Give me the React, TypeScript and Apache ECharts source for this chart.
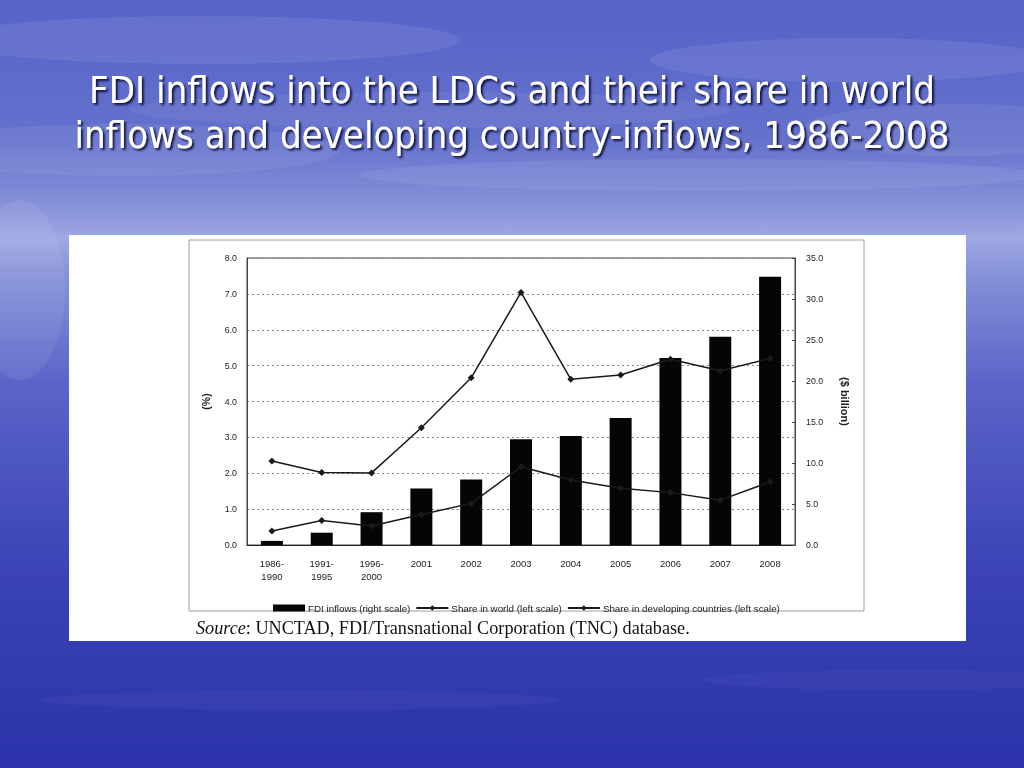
import React, { useEffect, useRef } from "react";
import * as echarts from "echarts";

const categories = [
  "1986-\n1990",
  "1991-\n1995",
  "1996-\n2000",
  "2001",
  "2002",
  "2003",
  "2004",
  "2005",
  "2006",
  "2007",
  "2008",
];
// FDI inflows, $ billion (right scale)
const fdiInflows = [0.5, 1.5, 4.0, 6.9, 8.0, 12.9, 13.3, 15.5, 22.8, 25.4, 32.7];
// Share in world inflows, % (left scale)
const shareWorld = [0.39, 0.68, 0.53, 0.85, 1.16, 2.18, 1.81, 1.58, 1.46, 1.25, 1.76];
// Share in developing-country inflows, % (left scale)
const shareDeveloping = [2.34, 2.02, 2.01, 3.27, 4.66, 7.04, 4.62, 4.74, 5.18, 4.86, 5.2];

const titleLines = [
  "FDI inflows into the LDCs and their share in world",
  "inflows and developing country-inflows, 1986-2008",
];
const seriesNames = [
  "FDI inflows (right scale)",
  "Share in world (left scale)",
  "Share in developing countries (left scale)",
];

const chartFont = "Liberation Sans, Arial, sans-serif";

export default function App() {
  const ref = useRef<HTMLDivElement>(null);

  useEffect(() => {
    if (!ref.current) return;
    const chart = echarts.init(ref.current, undefined, { renderer: "svg" });

    const clouds = [
      { cx: 200, cy: 40, rx: 260, ry: 24, o: 0.08 },
      { cx: 430, cy: 110, rx: 300, ry: 18, o: 0.06 },
      { cx: 850, cy: 60, rx: 200, ry: 22, o: 0.08 },
      { cx: 120, cy: 150, rx: 220, ry: 26, o: 0.07 },
      { cx: 700, cy: 175, rx: 340, ry: 16, o: 0.07 },
      { cx: 960, cy: 130, rx: 160, ry: 26, o: 0.07 },
      { cx: 20, cy: 290, rx: 45, ry: 90, o: 0.07 },
      { cx: 300, cy: 700, rx: 260, ry: 10, o: 0.03 },
      { cx: 900, cy: 680, rx: 200, ry: 10, o: 0.03 },
    ];

    const option: any = {
      animation: false,
      graphic: [
        {
          type: "rect",
          silent: true,
          z: -10,
          shape: { x: 0, y: 0, width: 1024, height: 768 },
          style: {
            fill: new echarts.graphic.LinearGradient(0, 0, 0, 1, [
              { offset: 0, color: "#5663c8" },
              { offset: 0.18, color: "#6471cc" },
              { offset: 0.27, color: "#8893da" },
              { offset: 0.31, color: "#9ea8e3" },
              { offset: 0.36, color: "#8590d8" },
              { offset: 0.5, color: "#5a64c8" },
              { offset: 0.75, color: "#3a42b6" },
              { offset: 1, color: "#2c33aa" },
            ]),
          },
        },
        ...clouds.map((c) => ({
          type: "ellipse",
          silent: true,
          z: -9,
          shape: { cx: c.cx, cy: c.cy, rx: c.rx, ry: c.ry },
          style: { fill: "#ffffff", opacity: c.o },
        })),
        {
          type: "rect",
          silent: true,
          z: -8,
          shape: { x: 69, y: 235, width: 897, height: 406 },
          style: { fill: "#ffffff" },
        },
        {
          type: "rect",
          silent: true,
          z: -7,
          shape: { x: 189, y: 240, width: 675, height: 371 },
          style: { fill: "none", stroke: "#a0a0a0", lineWidth: 1 },
        },
        ...titleLines.map((t, i) => ({
          type: "text",
          silent: true,
          x: 512,
          y: 90 + i * 45,
          style: {
            text: t,
            fill: "#ffffff",
            font: "38px 'DejaVu Sans Condensed', 'DejaVu Sans', sans-serif",
            align: "center",
            verticalAlign: "middle",
            textShadowColor: "rgba(0,0,40,0.85)",
            textShadowOffsetX: 2,
            textShadowOffsetY: 2,
            textShadowBlur: 2,
          },
        })),
        {
          type: "text",
          silent: true,
          x: 196,
          y: 628,
          style: {
            text: "{i|Source}: UNCTAD, FDI/Transnational Corporation (TNC) database.",
            fill: "#111",
            font: "18.2px 'Liberation Serif', 'Times New Roman', serif",
            verticalAlign: "middle",
            rich: {
              i: {
                fontStyle: "italic",
                fontFamily: "Liberation Serif",
                fontSize: 18.2,
                fill: "#111",
              },
            },
          },
        },
      ],
      grid: {
        left: 247,
        right: 229,
        top: 258,
        bottom: 223,
        show: true,
        borderColor: "#444",
        borderWidth: 1,
        backgroundColor: "transparent",
      },
      legend: {
        left: 268,
        top: 598,
        itemWidth: 32,
        itemHeight: 7,
        itemGap: 5,
        textStyle: { fontSize: 9.8, color: "#222", fontFamily: chartFont, padding: [0, 0, 0, -2] },
        data: [
          { name: seriesNames[0], icon: "rect" },
          { name: seriesNames[1] },
          { name: seriesNames[2] },
        ],
      },
      xAxis: {
        type: "category",
        data: categories,
        axisLine: { lineStyle: { color: "#222", width: 1 } },
        axisTick: { show: false },
        axisLabel: {
          fontSize: 9.5,
          color: "#222",
          fontFamily: chartFont,
          margin: 12,
          lineHeight: 13,
          interval: 0,
        },
      },
      yAxis: [
        {
          type: "value",
          min: 0,
          max: 8,
          interval: 1,
          name: "(%)",
          nameLocation: "middle",
          nameRotate: 90,
          nameGap: 36,
          nameTextStyle: { fontSize: 10.5, fontWeight: "bold", color: "#222", fontFamily: chartFont },
          axisLine: { show: true, lineStyle: { color: "#444" } },
          axisTick: { show: false },
          axisLabel: {
            fontSize: 8.8,
            color: "#222",
            fontFamily: chartFont,
            margin: 10,
            formatter: (v: number) => v.toFixed(1),
          },
          splitLine: { show: true, lineStyle: { color: "#888", type: [2, 3], width: 1 } },
        },
        {
          type: "value",
          min: 0,
          max: 35,
          interval: 5,
          name: "($ billion)",
          nameLocation: "middle",
          nameRotate: -90,
          nameGap: 44,
          nameTextStyle: { fontSize: 11, fontWeight: "bold", color: "#222", fontFamily: chartFont },
          axisLine: { show: true, lineStyle: { color: "#444" } },
          axisTick: { show: true, inside: true, length: 3, lineStyle: { color: "#444" } },
          axisLabel: {
            fontSize: 8.8,
            color: "#222",
            fontFamily: chartFont,
            margin: 11,
            formatter: (v: number) => v.toFixed(1),
          },
          splitLine: { show: false },
        },
      ],
      series: [
        {
          name: seriesNames[0],
          type: "bar",
          yAxisIndex: 1,
          data: fdiInflows,
          barWidth: 22,
          itemStyle: { color: "#050505" },
        },
        {
          name: seriesNames[1],
          type: "line",
          yAxisIndex: 0,
          data: shareWorld,
          symbol: "diamond",
          symbolSize: 7,
          lineStyle: { color: "#1a1a1a", width: 1.5 },
          itemStyle: { color: "#1a1a1a" },
        },
        {
          name: seriesNames[2],
          type: "line",
          yAxisIndex: 0,
          data: shareDeveloping,
          symbol: "diamond",
          symbolSize: 7,
          lineStyle: { color: "#1a1a1a", width: 1.5 },
          itemStyle: { color: "#1a1a1a" },
        },
      ],
    };

    chart.setOption(option);
    return () => chart.dispose();
  }, []);

  return (
    <div
      ref={ref}
      style={{ position: "fixed", left: 0, top: 0, width: 1024, height: 768 }}
    />
  );
}
